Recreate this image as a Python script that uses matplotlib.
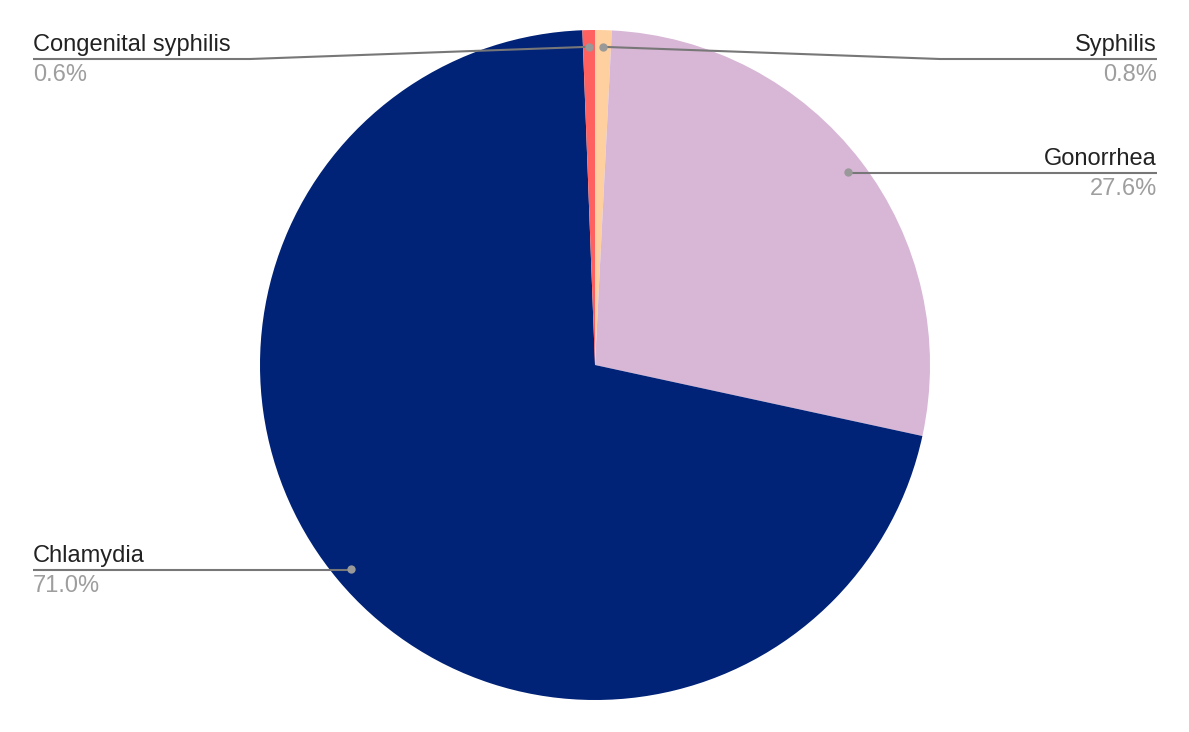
import numpy as np
import matplotlib.pyplot as plt

labels = ["Syphilis", "Gonorrhea", "Chlamydia", "Congenital syphilis"]
values = [0.8, 27.6, 71.0, 0.6]
colors = ["#ffd09f", "#d8b6d6", "#002277", "#ff6161"]

plt.rcParams['font.family'] = ['Liberation Sans', 'DejaVu Sans']

W, H = 1189, 732
fig = plt.figure(figsize=(W / 100, H / 100), dpi=100)
ax = fig.add_axes([0, 0, 1, 1])

cx, cy, r = 595, H - 365, 335
wedges, _ = ax.pie(values, colors=colors, startangle=90, counterclock=False,
                   center=(cx, cy), radius=r, frame=True,
                   wedgeprops=dict(linewidth=0))
ax.set_xlim(0, W)
ax.set_ylim(0, H)
ax.set_aspect('auto')
ax.axis('off')

# leader line height (px from top) and side for each label
leader = {
    "Syphilis": (59, "right"),
    "Gonorrhea": (173, "right"),
    "Chlamydia": (570, "left"),
    "Congenital syphilis": (59, "left"),
}

for w, lab, val in zip(wedges, labels, values):
    ang = np.deg2rad((w.theta1 + w.theta2) / 2)
    px = cx + 0.95 * r * np.cos(ang)
    py = cy + 0.95 * r * np.sin(ang)
    ly, side = leader[lab]
    ly = H - ly
    if side == "right":
        tx = 1157
        elbow = 940 if abs(py - ly) > 3 else px
        ha = 'right'
    else:
        tx = 33
        elbow = 250 if abs(py - ly) > 3 else px
        ha = 'left'
    ax.plot([px, elbow, tx], [py, ly, ly], color='#777777', lw=1.5,
            solid_capstyle='butt', zorder=3)
    ax.plot(px, py, 'o', color='#999999', ms=6, mec='none', zorder=4)
    ax.text(tx, ly + 8, lab, ha=ha, va='baseline', fontsize=17, color='#222222')
    ax.text(tx, ly - 22, f"{val:.1f}%", ha=ha, va='baseline', fontsize=17,
            color='#9e9e9e')

fig.savefig("out.png", dpi=100)
